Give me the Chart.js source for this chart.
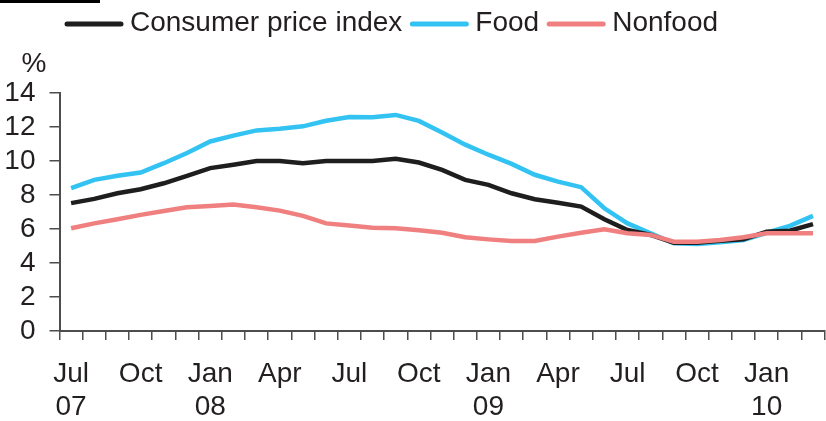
<!DOCTYPE html>
<html>
<head>
<meta charset="utf-8">
<script src="https://cdn.jsdelivr.net/npm/chart.js@4.4.0/dist/chart.umd.min.js"></script>
<style>
  html, body { margin: 0; padding: 0; background: #fff; overflow: hidden; }
  #wrap { position: relative; width: 830px; height: 421px; }
</style>
</head>
<body>
<div id="wrap"><canvas id="cpiChart"></canvas></div>
<script>
// months Jul 07 .. Mar 10
const months = ['Jul 07','Aug 07','Sep 07','Oct 07','Nov 07','Dec 07',
  'Jan 08','Feb 08','Mar 08','Apr 08','May 08','Jun 08','Jul 08','Aug 08','Sep 08','Oct 08','Nov 08','Dec 08',
  'Jan 09','Feb 09','Mar 09','Apr 09','May 09','Jun 09','Jul 09','Aug 09','Sep 09','Oct 09','Nov 09','Dec 09',
  'Jan 10','Feb 10','Mar 10'];

// axis labels shown under the months (blank = no label)
const tickLabels = [['Jul','07'],'','',['Oct'],'','',['Jan','08'],'','',['Apr'],'','',
  ['Jul'],'','',['Oct'],'','',['Jan','09'],'','',['Apr'],'','',['Jul'],'','',['Oct'],'','',
  ['Jan','10'],'',''];

const cpi = [7.52, 7.77, 8.10, 8.34, 8.69, 9.13, 9.58, 9.78, 10.0, 10.0, 9.87, 10.0, 10.0, 10.0, 10.13, 9.91,
  9.48, 8.89, 8.60, 8.10, 7.75, 7.55, 7.32, 6.57, 5.94, 5.65, 5.19, 5.19, 5.31, 5.39, 5.84, 5.90, 6.29];
const food = [8.40, 8.89, 9.13, 9.32, 9.87, 10.47, 11.15, 11.49, 11.80, 11.90, 12.04, 12.37, 12.59, 12.57, 12.71, 12.36,
  11.68, 10.96, 10.37, 9.83, 9.19, 8.79, 8.46, 7.22, 6.33, 5.75, 5.16, 5.12, 5.22, 5.35, 5.78, 6.18, 6.77];
const nonfood = [6.04, 6.33, 6.57, 6.83, 7.06, 7.28, 7.36, 7.44, 7.28, 7.08, 6.77, 6.33, 6.20, 6.08, 6.05, 5.92,
  5.78, 5.51, 5.39, 5.29, 5.29, 5.55, 5.78, 5.98, 5.75, 5.65, 5.25, 5.25, 5.35, 5.51, 5.75, 5.75, 5.75];

const seriesNames = ['Consumer price index', 'Food', 'Nonfood'];
const seriesColors = ['#1e1e1e', '#33c3f2', '#f08080'];

const FONT = '"Liberation Sans", Arial, sans-serif';
const TEXT = '#231f20';
const AXIS = '#4d4d4d';

// legend, "%" label and the cut off heading underline
const extras = {
  id: 'extras',
  afterDraw(chart) {
    const ctx = chart.ctx;
    ctx.save();
    // underline of heading cut off at the top
    ctx.fillStyle = '#000';
    ctx.fillRect(0, 0, 100, 3);

    ctx.font = '28px ' + FONT;
    ctx.textBaseline = 'alphabetic';
    ctx.textAlign = 'left';
    let x = 65;
    seriesNames.forEach((name, i) => {
      ctx.strokeStyle = seriesColors[i];
      ctx.lineWidth = 5;
      ctx.lineCap = 'round';
      ctx.beginPath();
      ctx.moveTo(x + 2, 24);
      ctx.lineTo(x + 56, 24);
      ctx.stroke();
      ctx.fillStyle = TEXT;
      ctx.fillText(name, x + 65, 31);
      x += 65 + ctx.measureText(name).width + 8;
    });

    ctx.textAlign = 'center';
    ctx.fillText('%', 34, 72);
    ctx.restore();
  }
};

const ctx = document.getElementById('cpiChart').getContext('2d');
new Chart(ctx, {
  type: 'line',
  data: {
    labels: months,
    datasets: [
      { label: seriesNames[0], data: cpi, borderColor: seriesColors[0], order: 1 },
      { label: seriesNames[1], data: food, borderColor: seriesColors[1], order: 2 },
      { label: seriesNames[2], data: nonfood, borderColor: seriesColors[2], order: 0 }
    ].map(d => Object.assign(d, { borderWidth: 4.5, pointRadius: 0, tension: 0, fill: false }))
  },
  options: {
    responsive: true,
    maintainAspectRatio: false,
    animation: false,
    layout: { padding: { top: 93, left: 0, right: 0, bottom: 0 } },
    plugins: { legend: { display: false }, tooltip: { enabled: false } },
    scales: {
      x: {
        offset: true,
        grid: { offset: true, drawOnChartArea: false, drawTicks: true, tickLength: 9, color: AXIS, lineWidth: 1.5 },
        border: { display: true, color: AXIS, width: 2 },
        ticks: {
          autoSkip: false, maxRotation: 0, padding: 17, color: TEXT,
          font: { family: FONT, size: 28 },
          callback: (v, i) => tickLabels[i]
        },
        afterFit(scale) { scale.height = 90; }
      },
      y: {
        min: 0, max: 14,
        ticks: { stepSize: 2, autoSkip: false, padding: 14, color: TEXT, font: { family: FONT, size: 28 } },
        grid: { drawOnChartArea: false, drawTicks: true, tickLength: 10, color: AXIS, lineWidth: 1.5 },
        border: { display: true, color: AXIS, width: 2 },
        afterFit(scale) { scale.width = 59.5; }
      }
    }
  },
  plugins: [extras]
});
</script>
</body>
</html>
